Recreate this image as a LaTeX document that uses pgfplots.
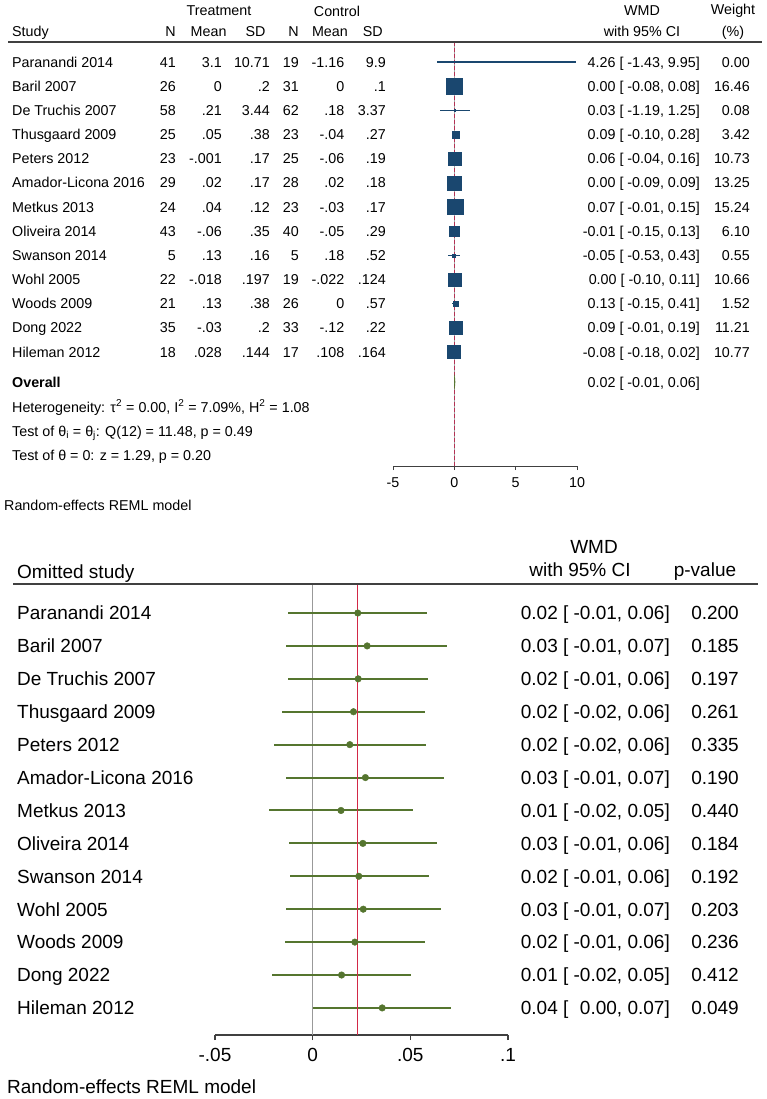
\documentclass[border=0pt]{standalone}
\usepackage{pgfplots}
\pgfplotsset{compat=1.18}
\usepackage{pgfplotstable}
\usepackage{fontspec}
\setmainfont{Liberation Sans}

\definecolor{sqnavy}{HTML}{1A476F}
\definecolor{ptgreen}{HTML}{55752F}
\definecolor{refred}{RGB}{180,50,85}
\definecolor{linered}{RGB}{210,40,70}
\definecolor{rulegray}{HTML}{404040}

\newcommand\ftop{\fontsize{14.3pt}{17pt}\selectfont}
\newcommand\fbot{\fontsize{19pt}{23pt}\selectfont}

% Forest plot: study rows, WMD, 95% CI and weight (%)
\pgfplotstableread{
row est lo hi w
1 4.26 -1.43 9.95 0.00
2 0.00 -0.08 0.08 16.46
3 0.03 -1.19 1.25 0.08
4 0.09 -0.10 0.28 3.42
5 0.06 -0.04 0.16 10.73
6 0.00 -0.09 0.09 13.25
7 0.07 -0.01 0.15 15.24
8 -0.01 -0.15 0.13 6.10
9 -0.05 -0.53 0.43 0.55
10 0.00 -0.10 0.11 10.66
11 0.13 -0.15 0.41 1.52
12 0.09 -0.01 0.19 11.21
13 -0.08 -0.18 0.02 10.77
}\forest

% Leave-one-out: pooled WMD and 95% CI with each study omitted
\pgfplotstableread{
row est lo hi
1 0.0231 -0.0126 0.0587
2 0.0279 -0.0134 0.0690
3 0.0233 -0.0124 0.0588
4 0.0209 -0.0155 0.0575
5 0.0190 -0.0197 0.0580
6 0.0270 -0.0134 0.0673
7 0.0145 -0.0223 0.0512
8 0.0257 -0.0121 0.0634
9 0.0236 -0.0117 0.0594
10 0.0259 -0.0138 0.0656
11 0.0216 -0.0143 0.0577
12 0.0148 -0.0206 0.0503
13 0.0356 0.0002 0.0708
}\loo

\pgfplotsset{cionly/.style={only marks, mark=none, mark size=0pt,
  mark options={draw=none, fill=none}}}

\begin{document}
\begin{tikzpicture}[tt/.style={inner sep=0pt, font=\ftop}, tb/.style={inner sep=0pt, font=\fbot}]
\useasboundingbox (0,0) rectangle (767pt,-1099pt);

% ---------------- forest plot ----------------
\begin{axis}[
  at={(393pt,-466pt)}, anchor=south west,
  scale only axis, width=184pt, height=424pt,
  xmin=-5, xmax=10, ymin=-17.715, ymax=-0.1725,
  enlargelimits=false, clip=false,
  axis y line=none, axis x line*=bottom,
  axis line style={rulegray, line width=0.8pt},
  xtick={-5,0,5,10}, xticklabels={-5,0,5,10},
  tick align=outside, major tick length=4pt,
  tick style={rulegray, line width=0.8pt},
  xticklabel style={font=\ftop, yshift=-4pt},
]
\addplot[gray!70, line width=0.8pt] coordinates {(0,-0.1725) (0,-17.715)};
\addplot[refred, line width=0.8pt, dash pattern=on 4pt off 2pt] coordinates {(0.02,-0.1725) (0.02,-17.715)};
\addplot[cionly, error bars/.cd, x dir=both, x explicit, error mark=none,
  error bar style={sqnavy, line width=1.3pt}]
  table[x=est, y expr=-\thisrow{row}, x error plus expr=\thisrow{hi}-\thisrow{est},
        x error minus expr=\thisrow{est}-\thisrow{lo}] {\forest};
% weight-sized squares (a study with 0.00% weight gets no square)
\addplot[sqnavy, scatter, only marks, mark=square*, point meta=\thisrow{w},
  restrict expr to domain={\thisrow{w}}{0.005:100},
  scatter/use mapped color={draw=sqnavy, fill=sqnavy},
  visualization depends on={7.6*sqrt(\thisrow{w}/16.46)+0.3 \as \msize},
  scatter/@pre marker code/.append style={/tikz/mark size=\msize},
  mark options={line width=0.3pt}]
  table[x=est, y expr=-\thisrow{row}] {\forest};
% overall estimate 0.02 [-0.01, 0.06]
\addplot[fill=ptgreen, draw=ptgreen, line width=0.4pt]
  coordinates {(-0.01,-14.24) (0.02,-13.94) (0.06,-14.24) (0.02,-14.54) (-0.01,-14.24)};
\end{axis}

% column headers
\node[tt] at (219pt,-11pt) {Treatment};
\node[tt] at (337pt,-11pt) {Control};
\node[tt] at (642pt,-11pt) {WMD};
\node[tt] at (733pt,-11pt) {Weight};
\node[tt, anchor=base west] at (12pt,-36.1pt) {Study};
\node[tt, anchor=base east] at (176pt,-36.1pt) {N};
\node[tt, anchor=base east] at (226.7pt,-36.1pt) {Mean};
\node[tt, anchor=base east] at (265.7pt,-36.1pt) {SD};
\node[tt, anchor=base east] at (299pt,-36.1pt) {N};
\node[tt, anchor=base east] at (348pt,-36.1pt) {Mean};
\node[tt, anchor=base east] at (383pt,-36.1pt) {SD};
\node[tt, anchor=base] at (642pt,-36.1pt) {with 95\% CI};
\node[tt, anchor=base] at (733pt,-36.1pt) {(\%)};
\draw[rulegray, line width=1.3pt] (8pt,-42pt) -- (762pt,-42pt);

% study rows
\foreach \nm/\nt/\mt/\st/\nc/\mc/\sc/\ci/\wt [count=\i from 0] in {
  Paranandi 2014/41/3.1/10.71/19/-1.16/9.9/{4.26 [ -1.43, 9.95]}/0.00,
  Baril 2007/26/0/.2/31/0/.1/{0.00 [ -0.08, 0.08]}/16.46,
  De Truchis 2007/58/.21/3.44/62/.18/3.37/{0.03 [ -1.19, 1.25]}/0.08,
  Thusgaard 2009/25/.05/.38/23/-.04/.27/{0.09 [ -0.10, 0.28]}/3.42,
  Peters 2012/23/-.001/.17/25/-.06/.19/{0.06 [ -0.04, 0.16]}/10.73,
  Amador-Licona 2016/29/.02/.17/28/.02/.18/{0.00 [ -0.09, 0.09]}/13.25,
  Metkus 2013/24/.04/.12/23/-.03/.17/{0.07 [ -0.01, 0.15]}/15.24,
  Oliveira 2014/43/-.06/.35/40/-.05/.29/{-0.01 [ -0.15, 0.13]}/6.10,
  Swanson 2014/5/.13/.16/5/.18/.52/{-0.05 [ -0.53, 0.43]}/0.55,
  Wohl 2005/22/-.018/.197/19/-.022/.124/{0.00 [ -0.10, 0.11]}/10.66,
  Woods 2009/21/.13/.38/26/0/.57/{0.13 [ -0.15, 0.41]}/1.52,
  Dong 2022/35/-.03/.2/33/-.12/.22/{0.09 [ -0.01, 0.19]}/11.21,
  Hileman 2012/18/.028/.144/17/.108/.164/{-0.08 [ -0.18, 0.02]}/10.77}
{
  \pgfmathsetmacro\yb{-(67.1+24.17*\i)}
  \node[tt, anchor=base west] at (12pt,\yb pt) {\nm};
  \node[tt, anchor=base east] at (176pt,\yb pt) {\nt};
  \node[tt, anchor=base east] at (222pt,\yb pt) {\mt};
  \node[tt, anchor=base east] at (270pt,\yb pt) {\st};
  \node[tt, anchor=base east] at (299pt,\yb pt) {\nc};
  \node[tt, anchor=base east] at (344.5pt,\yb pt) {\mc};
  \node[tt, anchor=base east] at (386pt,\yb pt) {\sc};
  \node[tt, anchor=base east] at (700pt,\yb pt) {\ci};
  \node[tt, anchor=base east] at (750pt,\yb pt) {\wt};
}
\node[tt, anchor=base west] at (12pt,-387.1pt) {\textbf{Overall}};
\node[tt, anchor=base east] at (700pt,-387.1pt) {0.02 [ -0.01, 0.06]};
\node[tt, anchor=base west] at (12pt,-412.1pt)
  {Heterogeneity: τ\textsuperscript{2} = 0.00, I\textsuperscript{2} = 7.09\%, H\textsuperscript{2} = 1.08};
\node[tt, anchor=base west] at (12pt,-436.1pt)
  {Test of θ\textsubscript{i} = θ\textsubscript{j}: Q(12) = 11.48, p = 0.49};
\node[tt, anchor=base west] at (12pt,-460.1pt) {Test of θ = 0: z = 1.29, p = 0.20};
\node[tt, anchor=base west] at (4pt,-510.1pt) {Random-effects REML model};

% ---------------- leave-one-out plot ----------------
\begin{axis}[
  at={(215pt,-1035pt)}, anchor=south west,
  scale only axis, width=293pt, height=451pt,
  xmin=-0.05, xmax=0.1, ymin=-13.823, ymax=-0.1188,
  enlargelimits=false, clip=false, scaled x ticks=false,
  axis y line=none, axis x line*=bottom,
  axis line style={rulegray, line width=1.1pt},
  xtick={-0.05,0,0.05,0.1}, xticklabels={-.05,0,.05,.1},
  tick align=outside, major tick length=5pt,
  tick style={rulegray, line width=1.1pt},
  xticklabel style={font=\fbot, yshift=-5pt},
]
\addplot[gray!80, line width=1pt] coordinates {(0,-0.1188) (0,-13.823)};
\addplot[cionly, error bars/.cd, x dir=both, x explicit, error mark=none,
  error bar style={ptgreen, line width=2pt}]
  table[x=est, y expr=-\thisrow{row}, x error plus expr=\thisrow{hi}-\thisrow{est},
        x error minus expr=\thisrow{est}-\thisrow{lo}] {\loo};
% pooled estimate
\addplot[draw=linered, mark=none, line width=1.6pt] coordinates {(0.023,-0.1188) (0.023,-13.823)};
\addplot[only marks, mark=*, mark size=3.3pt, ptgreen]
  table[x=est, y expr=-\thisrow{row}] {\loo};
\end{axis}

\node[tb] at (594pt,-547pt) {WMD};
\node[tb, anchor=base] at (580pt,-576.8pt) {with 95\% CI};
\node[tb, anchor=base] at (705pt,-576.8pt) {p-value};
\node[tb, anchor=base west] at (17pt,-578.8pt) {Omitted study};
\draw[rulegray, line width=1.5pt] (13pt,-584pt) -- (758pt,-584pt);

\foreach \nm/\ci/\pv [count=\i from 0] in {
  Paranandi 2014/{0.02 [ -0.01, 0.06]}/0.200,
  Baril 2007/{0.03 [ -0.01, 0.07]}/0.185,
  De Truchis 2007/{0.02 [ -0.01, 0.06]}/0.197,
  Thusgaard 2009/{0.02 [ -0.02, 0.06]}/0.261,
  Peters 2012/{0.02 [ -0.02, 0.06]}/0.335,
  Amador-Licona 2016/{0.03 [ -0.01, 0.07]}/0.190,
  Metkus 2013/{0.01 [ -0.02, 0.05]}/0.440,
  Oliveira 2014/{0.03 [ -0.01, 0.06]}/0.184,
  Swanson 2014/{0.02 [ -0.01, 0.06]}/0.192,
  Wohl 2005/{0.03 [ -0.01, 0.07]}/0.203,
  Woods 2009/{0.02 [ -0.01, 0.06]}/0.236,
  Dong 2022/{0.01 [ -0.02, 0.05]}/0.412,
  Hileman 2012/{0.04 [ \phantom{-}0.00, 0.07]}/0.049}
{
  \pgfmathsetmacro\yb{-(619.8+32.91*\i)}
  \node[tb, anchor=base west] at (17pt,\yb pt) {\nm};
  \node[tb, anchor=base east] at (670pt,\yb pt) {\ci};
  \node[tb, anchor=base east] at (739pt,\yb pt) {\pv};
}
\node[tb, anchor=base west] at (7pt,-1093.8pt) {Random-effects REML model};
\end{tikzpicture}
\end{document}
